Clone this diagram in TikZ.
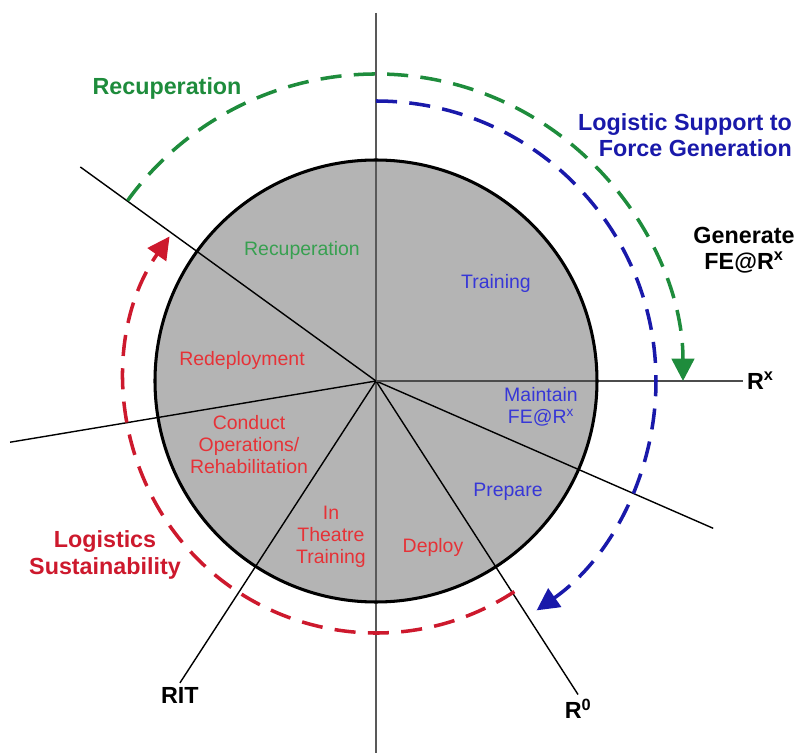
\documentclass[tikz,border=0pt]{standalone}
\usepackage{fontspec}
\setmainfont{Liberation Sans}
\usetikzlibrary{arrows.meta}
\definecolor{recgreen}{RGB}{30,140,60}
\definecolor{supblue}{RGB}{25,25,170}
\definecolor{susred}{RGB}{205,25,45}
\definecolor{ingreen}{RGB}{55,160,80}
\definecolor{inblue}{RGB}{55,55,215}
\definecolor{inred}{RGB}{230,50,55}
\definecolor{disc}{RGB}{180,180,180}
\newcommand{\rad}{221}
\newcommand{\rgreen}{307}
\newcommand{\rblue}{280}
\newcommand{\rred}{252}

\begin{document}
\begin{tikzpicture}[x=0.03cm,y=0.03cm]
        \tikzset{
            outerlabel/.style={font=\fontsize{19.9}{22.5}\selectfont\bfseries, align=center},
            innerlabel/.style={font=\fontsize{16.6}{18.8}\selectfont, align=center},
            phasearc/.style={line width=3pt, dash pattern=on 18pt off 10.5pt,
                -{Triangle[length=19pt,width=19pt]}},
            spoke/.style={black, line width=1.2pt}
        }
        \useasboundingbox (-376,-372) rectangle (422,381);

        % Centre and ends of the spokes
        \coordinate (O) at (0,0);
        \coordinate (top) at (0,368);
        \coordinate (bot) at (0,-372);
        \coordinate (rec) at (144.1:365);
        \coordinate (cond) at (189.5:371);
        \coordinate (rit) at (237:360);
        \coordinate (rzero) at (302.8:373);
        \coordinate (prep) at (336.4:368);
        \coordinate (rx) at (367,0);

        % Draw the disc
        \fill[disc] (O) circle[radius=\rad];

        % Lines from the centre
        \draw[black!65, line width=1.3pt] (top) -- (bot);
        \draw[spoke] (O) -- (rec);
        \draw[spoke] (O) -- (cond);
        \draw[spoke] (O) -- (rit);
        \draw[spoke] (O) -- (rzero);
        \draw[spoke] (O) -- (prep);
        \draw[black!70, line width=1.2pt] (O) -- (rx);
        \draw[line width=2.6pt] (O) circle[radius=\rad];

        % Draw the dashed cycles
        \draw[phasearc, recgreen] (144:\rgreen) arc[start angle=144, end angle=0, radius=\rgreen];
        \draw[phasearc, supblue] (90:\rblue) arc[start angle=90, end angle=-55, radius=\rblue];
        \draw[phasearc, susred] (303.3:\rred) arc[start angle=303.3, end angle=145, radius=\rred];

        % Labels of the spokes
        \node[outerlabel, right] (rxlab) at (rx) {R\textsuperscript{x}};
        \node[outerlabel, below] (rzerolab) at (rzero) {R\textsuperscript{0}};
        \node[outerlabel, below] (ritlab) at (rit) {RIT};

        % Outer labels
        \node[outerlabel, recgreen] (recout) at (-209,293) {Recuperation};
        \node[outerlabel, supblue, align=right, anchor=east] (support) at (420,246)
            {Logistic Support to\\Force Generation};
        \node[outerlabel] (generate) at (368,131) {Generate\\FE@R\textsuperscript{x}};
        \node[outerlabel, susred] (sustain) at (-271,-174) {Logistics\\Sustainability};

        % Inner labels
        \node[innerlabel, ingreen] (recin) at (-74,131) {Recuperation};
        \node[innerlabel, inblue] (training) at (120,98) {Training};
        \node[innerlabel, inred] (redeploy) at (-134,21) {Redeployment};
        \node[innerlabel, inblue] (maintain) at (165,-26) {Maintain\\FE@R\textsuperscript{x}};
        \node[innerlabel, inred] (conduct) at (-127,-64) {Conduct\\Operations/\\Rehabilitation};
        \node[innerlabel, inred] (theatre) at (-45,-156) {In\\Theatre\\Training};
        \node[innerlabel, inblue] (prepare) at (132,-111) {Prepare};
        \node[innerlabel, inred] (deploy) at (57,-166) {Deploy};
    \end{tikzpicture}
\end{document}
